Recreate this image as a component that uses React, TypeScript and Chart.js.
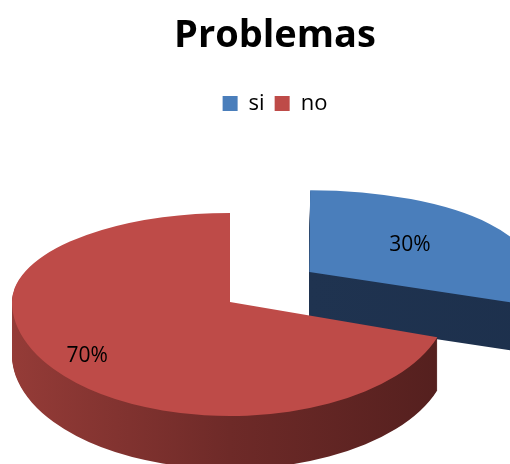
import React, { useEffect, useRef } from "react";
import { Chart, registerables } from "chart.js";

Chart.register(...registerables);

const TITLE = "Problemas";
const CATEGORIES = ["si", "no"];
const VALUES = [30, 70];
const LABELS = ["30%", "70%"];

const TOP_COLORS = ["#4a7ebb", "#be4b48"];
const SIDE_STOPS: string[][] = [
  ["#1f3350", "#1f3350", "#1c2f4b"],
  ["#a8443f", "#6e2a28", "#461a19"],
];
const EXPLODE = [180, 0];
const LABEL_RADIUS = [0.57, 0.81];
// per-slice perspective (vertical foreshortening for the farther, exploded slice)
const PERSP = [0.9, 1];

const PIE_RADIUS = 100;
const SCREEN_CX = 230;
const SCREEN_CY = 302;
const RX = 218;
const RY_BACK = 89;
const RY_FRONT = 114;
const EXPLODE_LIFT = 1.28;
const DEPTH = 53;

const pie3d = {
  id: "pie3d",
  beforeDatasetsDraw(chart: any) {
    const ctx: CanvasRenderingContext2D = chart.ctx;
    const W = chart.width;
    const H = chart.height;
    const meta = chart.getDatasetMeta(0);
    const arcs = meta.data as any[];
    if (!arcs.length) return false;
    const cx = arcs[0].x;
    const cy = arcs[0].y;
    const R = arcs[0].outerRadius;
    const sx = RX / R;

    const geom = arcs.map((arc, i) => {
      const mid = (arc.startAngle + arc.endAngle) / 2;
      const offPx = (arc.options.offset || 0) / 4;
      const ox = Math.cos(mid) * offPx;
      const oy = Math.sin(mid) * offPx;
      const syB = (RY_BACK / R) * PERSP[i];
      const syF = (RY_FRONT / R) * PERSP[i];
      const vx = SCREEN_CX + ox * sx;
      const vy = Math.round(SCREEN_CY + oy * (oy < 0 ? RY_BACK / R : RY_FRONT / R) * EXPLODE_LIFT);
      return { mid, offPx, ox, oy, syB, syF, vx, vy, depth: Math.round(DEPTH * PERSP[i]) };
    });

    const drawHalves = (arc: any, g: any, dy: number) => {
      const vy = g.vy + dy;
      ctx.save();
      ctx.beginPath();
      ctx.rect(0, -2000, W, vy + 2000);
      ctx.clip();
      ctx.translate(g.vx, vy);
      ctx.scale(sx, g.syB);
      ctx.translate(-(cx + g.ox), -(cy + g.oy));
      arc.draw(ctx);
      ctx.restore();
      ctx.save();
      ctx.beginPath();
      ctx.rect(0, vy, W, H + 2000);
      ctx.clip();
      ctx.translate(g.vx, vy);
      ctx.scale(sx, g.syF);
      ctx.translate(-(cx + g.ox), -(cy + g.oy));
      arc.draw(ctx);
      ctx.restore();
    };

    arcs.forEach((arc, i) => {
      const g = geom[i];
      const orig = arc.options;
      const grad = ctx.createLinearGradient(cx - R * 1.5, 0, cx + R * 1.5, 0);
      const stops = SIDE_STOPS[i];
      stops.forEach((c, k) => grad.addColorStop(k / (stops.length - 1), c));
      arc.options = { ...orig, backgroundColor: grad, borderWidth: 0 };
      for (let d = g.depth; d >= 1; d--) drawHalves(arc, g, d);
      arc.options = orig;
      drawHalves(arc, g, 0);
    });

    ctx.save();
    ctx.fillStyle = "#000";
    ctx.font = '21px "Open Sans"';
    ctx.textAlign = "center";
    ctx.textBaseline = "middle";
    arcs.forEach((arc, i) => {
      const g = geom[i];
      const r = LABEL_RADIUS[i] * R;
      const ux = Math.cos(g.mid) * r;
      const uy = Math.sin(g.mid) * r;
      const sy = uy < 0 ? g.syB : g.syF;
      ctx.fillText(LABELS[i], g.vx + ux * sx, g.vy + uy * sy);
    });
    ctx.restore();
    return false;
  },
};

export default function App() {
  const ref = useRef<HTMLCanvasElement | null>(null);
  useEffect(() => {
    if (!ref.current) return;
    Chart.defaults.font.family = '"Open Sans"';
    const chart = new Chart(ref.current, {
      type: "pie",
      data: {
        labels: CATEGORIES,
        datasets: [
          {
            data: VALUES,
            backgroundColor: TOP_COLORS,
            borderWidth: 0,
            offset: EXPLODE,
          },
        ],
      },
      options: {
        animation: false,
        responsive: true,
        maintainAspectRatio: false,
        radius: PIE_RADIUS,
        layout: { padding: { left: 40 } },
        plugins: {
          title: {
            display: true,
            text: TITLE,
            color: "#000",
            font: { family: '"Open Sans"', size: 38, weight: "bold" },
            padding: { top: 13, bottom: 24 },
          },
          legend: {
            position: "top",
            labels: {
              boxWidth: 15,
              boxHeight: 15,
              color: "#000",
              padding: 10,
              font: { family: '"Open Sans"', size: 22 },
            },
          },
          tooltip: { enabled: false },
        },
      } as any,
      plugins: [pie3d as any],
    });
    return () => chart.destroy();
  }, []);
  return (
    <div style={{ position: "fixed", left: 0, top: 0, width: 510, height: 464, background: "#fff" }}>
      <canvas ref={ref} />
    </div>
  );
}
